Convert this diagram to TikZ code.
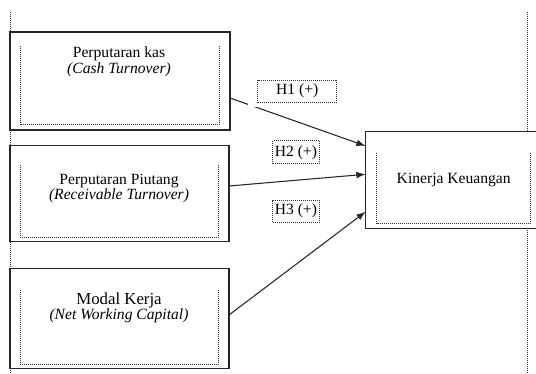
\documentclass[tikz,border=0pt]{standalone}
\usepackage{fontspec}
\setmainfont{Liberation Serif}
\usetikzlibrary{arrows.meta}
\begin{document}
\begin{tikzpicture}[x=0.75pt,y=-0.75pt,
  outerbox/.style={draw=black!85, line width=1pt, fill=white, inner sep=0pt, outer sep=0pt},
  dotline/.style={black!80, line width=0.75pt, dash pattern=on 0.75pt off 0.75pt},
  txt/.style={anchor=base, inner sep=0pt, font=\fontsize{11.7}{14}\selectfont},
  hyp/.style={draw=black!80, line width=0.75pt, dash pattern=on 0.75pt off 0.75pt, fill=white, inner sep=0pt, font=\fontsize{11.7}{14}\selectfont},
  arr/.style={draw=black!85, line width=0.8pt, -{Latex[length=7pt,width=5pt]}}]
\clip (0,0) rectangle (536,374);
% vertical dotted guide lines
\draw[dotline] (10,12) -- (10,374);
\draw[dotline] (527,12) -- (527,374);
% boxes
\node[outerbox, minimum width=165pt, minimum height=73.5pt] (b1) at (120,81) {};
\node[outerbox, minimum width=164.25pt, minimum height=72pt] (b2) at (119.5,193.7) {};
\node[outerbox, minimum width=164.25pt, minimum height=75pt] (b3) at (119.5,318.3) {};
\node[outerbox, minimum width=132pt, minimum height=72.5pt] (k) at (453.7,180) {};
% inner dotted frames
\draw[dotline] (20,45.7) -- (20,125) -- (219,125) -- (219,45.7);
\draw[dotline] (20,165) -- (20,237.3) -- (218,237.3) -- (218,165);
\draw[dotline] (20,290) -- (20,364.3) -- (218,364.3) -- (218,290);
\draw[dotline] (376.7,152.7) -- (376.7,223.3) -- (530.7,223.3) -- (530.7,152.7);
% texts
\node[txt] (t1a) at (119,57.3) {Perputaran kas};
\node[txt] (t1b) at (119,73.5) {\itshape (Cash Turnover)};
\node[txt] (t2a) at (119,184.3) {Perputaran Piutang};
\node[txt] (t2b) at (119,200) {\itshape (Receivable Turnover)};
\node[txt, font=\fontsize{12.6}{15}\selectfont] (t3a) at (119,304.3) {Modal Kerja};
\node[txt] (t3b) at (119,320) {\itshape (Net Working Capital)};
\node[txt] (tk) at (453.7,184) {Kinerja Keuangan};
% arrows
\draw[arr] (b1.east |- 0,98) -- (k.west |- 0,146);
\draw[arr] (b2.east |- 0,186) -- (k.west |- 0,174.3);
\draw[arr] (b3.east |- 0,315) -- (k.west |- 0,211.7);
% white extent of the H1 text box
\fill[white] (248,78) rectangle (340,107.5);
% hypothesis labels
\node[hyp, minimum width=59.25pt, minimum height=16.7pt] (h1) at (297.2,91.2) {H1 (+)};
\node[hyp, minimum width=34.7pt, minimum height=17.5pt] (h2) at (295.9,152.3) {H2 (+)};
\node[hyp, minimum width=34.7pt, minimum height=16.7pt] (h3) at (295.9,211.2) {H3 (+)};
\end{tikzpicture}
\end{document}
